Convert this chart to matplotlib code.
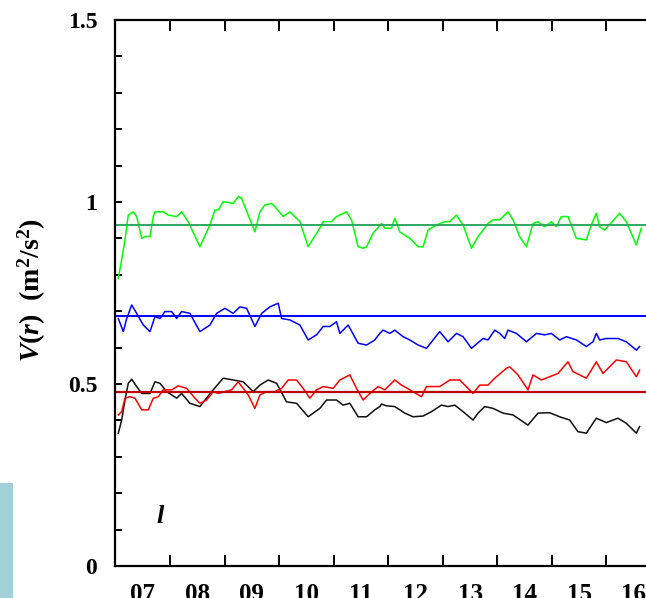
import matplotlib
matplotlib.use("Agg")
import matplotlib.pyplot as plt
import numpy as np
from matplotlib.patches import Rectangle

plt.rcParams['mathtext.fontset'] = 'custom'
plt.rcParams['mathtext.it'] = 'Liberation Serif:italic:bold'
plt.rcParams['mathtext.rm'] = 'Liberation Serif:bold'
plt.rcParams['mathtext.bf'] = 'Liberation Serif:bold'

# years since 2007 and values
t_green = [0.053, 0.115, 0.176, 0.236, 0.328, 0.390, 0.482, 0.542, 0.634, 0.694, 0.725, 0.877, 0.969,
           1.123, 1.214, 1.335, 1.549, 1.733, 1.824, 1.885, 1.976, 2.159, 2.251, 2.313, 2.434, 2.557,
           2.649, 2.740, 2.863, 2.954, 3.075, 3.198, 3.381, 3.533, 3.747, 3.808, 3.962, 4.053, 4.236,
           4.328, 4.449, 4.540, 4.603, 4.723, 4.877, 4.938, 5.060, 5.121, 5.212, 5.396, 5.548, 5.639,
           5.731, 5.885, 6.037, 6.128, 6.251, 6.372, 6.526, 6.647, 6.830, 6.921, 7.044, 7.196, 7.288,
           7.410, 7.533, 7.654, 7.745, 7.868, 7.991, 8.082, 8.174, 8.295, 8.449, 8.632, 8.723, 8.815,
           8.875, 8.967, 9.242, 9.364, 9.548, 9.639]
v_green = [0.790, 0.841, 0.896, 0.964, 0.973, 0.960, 0.900, 0.905, 0.905, 0.960, 0.973, 0.973, 0.964,
           0.960, 0.973, 0.946, 0.877, 0.937, 0.978, 0.978, 1.001, 0.996, 1.015, 1.010, 0.964, 0.918,
           0.973, 0.992, 0.996, 0.982, 0.960, 0.973, 0.946, 0.877, 0.928, 0.946, 0.946, 0.960, 0.973,
           0.951, 0.877, 0.873, 0.877, 0.914, 0.941, 0.928, 0.928, 0.955, 0.918, 0.900, 0.877, 0.877,
           0.923, 0.937, 0.946, 0.946, 0.964, 0.937, 0.873, 0.905, 0.941, 0.951, 0.951, 0.973, 0.951,
           0.905, 0.877, 0.941, 0.946, 0.932, 0.946, 0.932, 0.960, 0.960, 0.900, 0.896, 0.937, 0.969,
           0.932, 0.923, 0.969, 0.946, 0.882, 0.928]

t_blue = [0.053, 0.145, 0.207, 0.299, 0.390, 0.511, 0.634, 0.725, 0.817, 0.908, 1.031, 1.123, 1.214,
          1.366, 1.549, 1.733, 1.855, 2.007, 2.159, 2.282, 2.405, 2.557, 2.681, 2.832, 2.984, 3.046,
          3.198, 3.381, 3.533, 3.687, 3.808, 3.930, 4.053, 4.114, 4.266, 4.449, 4.603, 4.754, 4.846,
          4.907, 5.029, 5.121, 5.273, 5.396, 5.548, 5.701, 5.945, 6.097, 6.251, 6.372, 6.526, 6.738,
          6.830, 6.952, 7.044, 7.135, 7.196, 7.350, 7.533, 7.716, 7.868, 7.991, 8.143, 8.266, 8.449,
          8.632, 8.753, 8.815, 8.875, 8.998, 9.211, 9.364, 9.548, 9.608]
v_blue = [0.680, 0.644, 0.680, 0.717, 0.694, 0.662, 0.644, 0.685, 0.680, 0.699, 0.699, 0.680, 0.699,
          0.694, 0.644, 0.662, 0.694, 0.708, 0.694, 0.712, 0.708, 0.658, 0.694, 0.712, 0.722, 0.680,
          0.676, 0.662, 0.621, 0.635, 0.658, 0.658, 0.671, 0.639, 0.662, 0.612, 0.607, 0.621, 0.639,
          0.648, 0.639, 0.648, 0.630, 0.621, 0.607, 0.598, 0.644, 0.616, 0.639, 0.630, 0.598, 0.625,
          0.621, 0.648, 0.639, 0.625, 0.648, 0.639, 0.616, 0.639, 0.635, 0.639, 0.621, 0.630, 0.621,
          0.603, 0.616, 0.639, 0.621, 0.625, 0.625, 0.616, 0.593, 0.603]

t_red = [0.053, 0.115, 0.176, 0.267, 0.359, 0.482, 0.603, 0.694, 0.786, 0.877, 1.031, 1.152, 1.306,
         1.458, 1.549, 1.672, 1.793, 1.885, 2.007, 2.130, 2.251, 2.434, 2.557, 2.649, 2.771, 2.923,
         3.046, 3.167, 3.321, 3.441, 3.564, 3.687, 3.808, 3.991, 4.114, 4.297, 4.419, 4.540, 4.663,
         4.815, 4.938, 5.121, 5.244, 5.396, 5.610, 5.701, 5.945, 6.128, 6.311, 6.555, 6.678, 6.830,
         6.952, 7.167, 7.227, 7.379, 7.562, 7.654, 7.808, 7.960, 8.112, 8.295, 8.386, 8.632, 8.815,
         8.936, 9.181, 9.364, 9.548, 9.608]
v_red = [0.415, 0.424, 0.461, 0.465, 0.461, 0.429, 0.429, 0.461, 0.465, 0.484, 0.484, 0.495, 0.488,
         0.461, 0.447, 0.456, 0.479, 0.474, 0.479, 0.484, 0.506, 0.470, 0.433, 0.470, 0.479, 0.479,
         0.488, 0.511, 0.511, 0.488, 0.461, 0.484, 0.493, 0.488, 0.511, 0.525, 0.488, 0.456, 0.474,
         0.493, 0.484, 0.511, 0.497, 0.484, 0.465, 0.493, 0.493, 0.511, 0.511, 0.474, 0.497, 0.497,
         0.516, 0.543, 0.547, 0.525, 0.484, 0.525, 0.511, 0.520, 0.529, 0.561, 0.534, 0.516, 0.561,
         0.529, 0.566, 0.561, 0.520, 0.538]

t_black = [0.053, 0.115, 0.176, 0.236, 0.299, 0.390, 0.482, 0.634, 0.725, 0.817, 0.940, 1.123, 1.214,
           1.366, 1.549, 1.764, 1.976, 2.159, 2.342, 2.526, 2.649, 2.800, 2.954, 3.137, 3.321, 3.533,
           3.747, 3.870, 4.053, 4.174, 4.297, 4.449, 4.603, 4.754, 4.846, 4.877, 4.969, 5.121, 5.304,
           5.456, 5.639, 5.793, 5.976, 6.097, 6.220, 6.372, 6.555, 6.647, 6.769, 6.921, 7.104, 7.288,
           7.562, 7.745, 7.960, 8.143, 8.326, 8.478, 8.632, 8.815, 8.998, 9.211, 9.364, 9.548, 9.608]
v_black = [0.365, 0.401, 0.456, 0.502, 0.513, 0.493, 0.474, 0.474, 0.506, 0.502, 0.479, 0.461, 0.474,
           0.447, 0.438, 0.479, 0.516, 0.511, 0.506, 0.479, 0.497, 0.511, 0.502, 0.451, 0.447, 0.410,
           0.433, 0.456, 0.456, 0.442, 0.447, 0.410, 0.410, 0.429, 0.438, 0.445, 0.440, 0.438, 0.420,
           0.410, 0.412, 0.424, 0.442, 0.438, 0.442, 0.424, 0.401, 0.420, 0.438, 0.433, 0.420, 0.415,
           0.387, 0.420, 0.421, 0.410, 0.401, 0.369, 0.365, 0.406, 0.394, 0.406, 0.392, 0.365, 0.383]

mean_green = 0.937
mean_blue = 0.687
mean_red = 0.479

start_year = 2007
year_labels = ['07', '08', '09', '10', '11', '12', '13', '14', '15', '16']
y_ticks = [0, 0.5, 1, 1.5]
y_ticklabels = ['0', '0.5', '1', '1.5']

fig = plt.figure(figsize=(6.46, 5.98), dpi=100)
fig.patches.append(Rectangle((0, 0), 13 / 646, 115 / 598, transform=fig.transFigure,
                             facecolor='#a3d1d8', edgecolor='none', zorder=0))
ax = fig.add_axes([115.4 / 646, 32 / 598, (661 - 115.4) / 646, 546 / 598])

def yrs(t):
    return start_year + np.asarray(t)

ax.plot(yrs(t_green), v_green, color='#00ff00', lw=1.1)
ax.plot(yrs(t_blue), v_blue, color='#0000ff', lw=1.1)
ax.plot(yrs(t_black), v_black, color='#101010', lw=1.1)
ax.plot(yrs(t_red), v_red, color='#ff0000', lw=1.1)
ax.axhline(mean_green, color='#2fa860', lw=1.4)
ax.axhline(mean_blue, color='#0000ff', lw=1.4)
ax.axhline(mean_red, color='#c00000', lw=1.6)

ax.set_xlim(start_year, start_year + 10)
ax.set_ylim(0, 1.5)
ax.spines['right'].set_visible(False)
for s in ['left', 'bottom', 'top']:
    ax.spines[s].set_linewidth(1.6)

ax.set_xticks(np.arange(start_year + 1, start_year + 10))
ax.set_xticks([start_year + i + 0.5 for i in range(len(year_labels))], minor=True)
ax.set_xticklabels([], minor=False)
ax.set_xticklabels(year_labels, minor=True, fontfamily='Liberation Serif', fontweight='bold', fontsize=18)
ax.tick_params(axis='x', which='major', direction='in', length=8, width=1.4, top=True, bottom=True)
ax.tick_params(axis='x', which='minor', length=0, pad=12, top=False)

ax.set_yticks(y_ticks)
ax.set_yticks(np.arange(0, 1.51, 0.1), minor=True)
ax.set_yticklabels(y_ticklabels, fontfamily='Liberation Serif', fontweight='bold', fontsize=17)
ax.tick_params(axis='y', which='both', direction='in', length=5, width=1.4, right=False, pad=13)

fig.text(0.050, 1 - 290 / 598, r'$V(r)$  (m$^2$/s$^2$)', rotation=90, ha='center', va='center',
         fontfamily='Liberation Serif', fontweight='bold', fontsize=20)
ax.text(start_year + 0.82, 0.135, 'l', fontfamily='Liberation Serif', fontstyle='italic',
        fontweight='bold', fontsize=19, ha='center', va='center')

fig.savefig('out.png', dpi=100)
